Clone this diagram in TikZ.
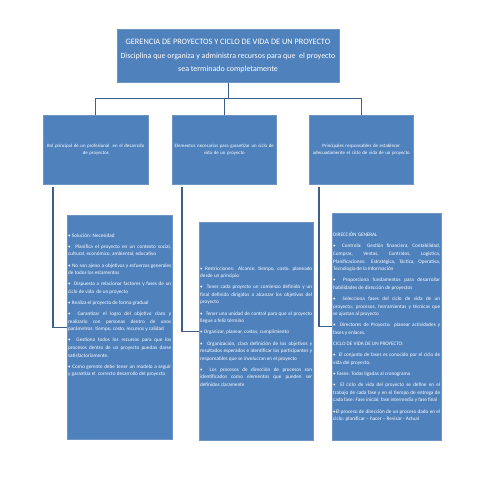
\documentclass[tikz,border=0pt]{standalone}
\usepackage{fontspec}
\setmainfont{Carlito}
\definecolor{boxblue}{HTML}{4F81BD}
\definecolor{boxedge}{HTML}{6F95C6}
\definecolor{linkblue}{HTML}{3E5F8A}
\tikzset{
  bluebox/.style={rectangle, fill=boxblue, draw=boxedge, line width=0.6bp, anchor=north west, inner sep=0pt},
  link/.style={draw=linkblue, line width=1.3bp},
  leveltwo/.style={text=white, font=\fontsize{4.9}{7.3}\selectfont, align=center, text width=112bp, inner sep=0pt},
  bodytext/.style={text=white, anchor=north west, inner sep=0pt, align=justify,
    font=\fontsize{5.2}{7.6}\selectfont,
    execute at begin node={\setlength{\parskip}{3.6bp}\hyphenpenalty=10000\emergencystretch=3em\hbadness=10000\hfuzz=20pt}}
}
\begin{document}
\hyphenpenalty=10000
\exhyphenpenalty=10000
\begin{tikzpicture}[x=1bp,y=-1bp]
\useasboundingbox[fill=white] (0,0) rectangle (480,480);
% top
\node[bluebox, minimum width=222bp, minimum height=53bp] (top) at (117,29) {};
\node[text=white, font=\fontsize{8.3}{9}\selectfont, inner sep=0pt] (title) at (228,42) {GERENCIA DE PROYECTOS Y CICLO DE VIDA DE UN PROYECTO};
\node[text=white, font=\fontsize{8}{13}\selectfont, align=center, inner sep=0pt, anchor=north] (sub) at (228,53) {Disciplina que organiza y administra recursos para que\ \ el proyecto\\ sea terminado completamente};
% level 2
\node[bluebox, minimum width=105bp, minimum height=69bp] (la) at (43,115) {};
\node[bluebox, minimum width=104bp, minimum height=69bp] (lb) at (172,115) {};
\node[bluebox, minimum width=104bp, minimum height=69bp] (lc) at (309,115) {};
\node[leveltwo] (lat) at (la.center) {Rol principal de un profesional\ \ en el desarrollo\\ de proyectos};
\node[leveltwo] (lbt) at (lb.center) {Elementos necesarios para garantizar un ciclo de\\ vida de un proyecto};
\node[leveltwo] (lct) at (lc.center) {Principales responsables de establecer\\ adecuadamente el ciclo de vida de un proyecto};
% level 3
\node[bluebox, minimum width=105bp, minimum height=224bp] (ma) at (67,215) {};
\node[bluebox, minimum width=114bp, minimum height=218bp] (mb) at (199,222) {};
\node[bluebox, minimum width=109bp, minimum height=227bp] (mc) at (332,213) {};
% connectors
\draw[link] (top.south) -- ++(0,16) coordinate (hub);
\draw[link] (la.north) -- (la.north |- hub) -- (lc.north |- hub) -- (lc.north);
\draw[link] (lb.north) -- (lb.north |- hub);
\draw[link] ([xshift=10bp,yshift=-2bp]la.south west) |- (ma.west);
\draw[link] ([xshift=10bp,yshift=-2bp]lb.south west) |- (mb.west);
\draw[link] ([xshift=10bp,yshift=-2bp]lc.south west) |- (mc.west);
% texts
\node[bodytext, text width=103bp] (mat) at ([xshift=1bp,yshift=-18.3bp]ma.north west) {%
• Solución: Necesidad\par
•\ \ Planifica el proyecto en un contexto social,\linebreak cultural, económico, ambiental, educativo\par
• No son ajeno a objetivos y esfuerzos generales\linebreak de todos los estamentos\par
•\ \ Dispuesto a relacionar factores y fases de un\linebreak ciclo de vida\ \ de un proyecto\par
• Realiza el proyecto de forma gradual\par
•\ \ Garantizar el logro del objetivo claro y\linebreak realizarlo con personas dentro de unos\linebreak parámetros: tiempo, costo, recursos y calidad\par
•\ \ Gestiona todos los recursos para que los\linebreak procesos dentro de un proyecto puedan darse\linebreak satisfactoriamente.\par
• Como gerente debe tener un modelo a seguir\linebreak y garantiza el\ \ correcto desarrollo del proyecto};
\node[bodytext, text width=112bp] (mbt) at ([xshift=1bp,yshift=-44.3bp]mb.north west) {%
• Restricciones: Alcance, tiempo, costo, planeado\linebreak desde un principio\par
•\ \ Tener cada proyecto un comienzo definido y un\linebreak final definido dirigidos a alcanzar los objetivos del\linebreak proyecto\par
•\ \ Tener una unidad de control para que el proyecto\linebreak llegue a feliz término\par
• Organizar, planear, costos, cumplimiento\par
•\ \ Organización, clara definición de los objetivos y\linebreak resultados esperados e identificar los participantes y\linebreak responsables que se involucran en el proyecto\par
•\ \ Los procesos de dirección de procesos son\linebreak identificados como elementos que pueden ser\linebreak definidos claramente};
\node[bodytext, text width=107bp] (mct) at ([xshift=1bp,yshift=-19.3bp]mc.north west) {%
DIRECCIÓN GENERAL\par
•\ \ Controla: Gestión financiera, Contabilidad,\linebreak Compras, Ventas, Contratos, Logística,\linebreak Planificaciones: Estratégica, Táctica, Operativa,\linebreak Tecnología de la Información\par
•\ \ Proporciona fundamentos para desarrollar\linebreak habilidades de dirección de proyectos\par
•\ \ Selecciona fases del ciclo de vida de un\linebreak proyecto; procesos, herramientas y técnicas que\linebreak se ajustan al proyecto\par
•\ \ Directores de Proyecto: planear actividades y\linebreak fases y enlaces.\par
CICLO DE VIDA DE UN PROYECTO:\par
•\ \ El conjunto de fases es conocido por el ciclo de\linebreak vida del proyecto.\par
• Fases: Todas ligadas al cronograma\par
•\ \ El ciclo de vida del proyecto se define en el\linebreak trabajo de cada fase y en el tiempo de entrega de\linebreak cada fase: Fase inicial, fase intermedia y fase final\par
•El proceso de dirección de un proceso dado en el\linebreak ciclo: planificar – hacer – Revisar - Actual};
\end{tikzpicture}
\end{document}
